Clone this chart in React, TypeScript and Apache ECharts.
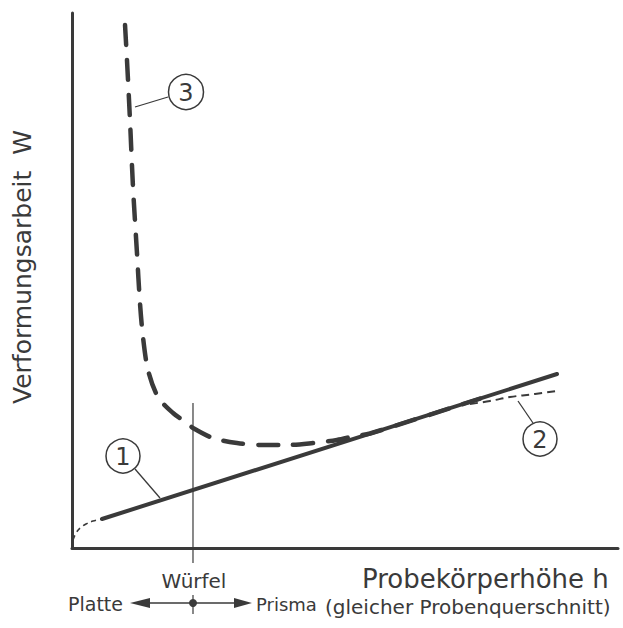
import React, { useEffect, useRef } from "react";
import * as echarts from "echarts";

// Kurve 1 (durchgezogen) und gestrichelter Anfang
const curve1: [number, number][] = [
  [5.49, 5.42],
  [88.83, 32.52],
];
const curve1Start: [number, number][] = [
  [0.18, 1.5],
  [0.73, 2.8],
  [1.47, 3.74],
  [2.56, 4.49],
  [3.85, 5.05],
  [5.49, 5.42],
];
// Kurve 2 (fein gestrichelt)
const curve2: [number, number][] = [
  [72.89, 26.92],
  [76.56, 27.48],
  [80.22, 28.22],
  [84.8, 28.79],
  [88.83, 29.35],
];
// Kurve 3 (grob gestrichelt)
const curve3: [number, number][] = [
  [9.71, 97.76],
  [10.07, 91.21],
  [10.62, 80.0],
  [11.17, 67.48],
  [11.9, 55.14],
  [12.45, 45.79],
  [13.0, 39.44],
  [13.92, 33.27],
  [15.75, 28.22],
  [18.5, 25.23],
  [21.06, 23.36],
  [22.16, 22.43],
  [25.82, 20.56],
  [30.22, 19.63],
  [34.98, 19.25],
  [39.38, 19.25],
  [44.14, 19.63],
  [48.53, 20.19],
  [51.83, 20.93],
  [54.58, 21.4],
  [74.73, 27.93],
];
// Würfel-Linie
const cubeLine: [number, number][] = [
  [22.16, 27.1],
  [22.16, -2.8],
];

const INK = "#3a3a3a";
const FONT = "DejaVu Sans";

export default function App() {
  const ref = useRef<HTMLDivElement>(null);
  useEffect(() => {
    document.body.style.margin = "0";
    if (!ref.current) return;
    const chart = echarts.init(ref.current, null, { renderer: "svg" });
    const circleLabel = (cx: number, cy: number, r: number, t: string) => [
      {
        type: "circle",
        shape: { cx, cy, r },
        style: { fill: "#fff", stroke: INK, lineWidth: 1.5 },
        z: 100,
      },
      {
        type: "text",
        x: cx,
        y: cy + 1,
        style: {
          text: t,
          fontSize: 24,
          fontFamily: FONT,
          fill: INK,
          align: "center",
          verticalAlign: "middle",
        },
        z: 101,
      },
    ];
    const leader = (x1: number, y1: number, x2: number, y2: number) => ({
      type: "line",
      shape: { x1, y1, x2, y2 },
      style: { stroke: INK, lineWidth: 1.3 },
      z: 99,
    });
    const txt = (x: number, y: number, text: string, size: number, align = "left") => ({
      type: "text",
      x,
      y,
      style: {
        text,
        fontSize: size,
        fontFamily: FONT,
        fill: INK,
        align,
        verticalAlign: "middle",
      },
    });
    chart.setOption({
      animation: false,
      backgroundColor: "#fff",
      grid: {
        left: 72,
        right: 5,
        top: 13,
        bottom: 80,
        containLabel: false,
        outerBoundsMode: "none",
      },
      xAxis: {
        type: "value",
        min: 0,
        max: 100,
        axisLine: { show: true, onZero: false, lineStyle: { color: INK, width: 3 } },
        axisTick: { show: false },
        axisLabel: { show: false },
        splitLine: { show: false },
      },
      yAxis: {
        type: "value",
        min: 0,
        max: 100,
        axisLine: { show: true, onZero: false, lineStyle: { color: INK, width: 3 } },
        axisTick: { show: false },
        axisLabel: { show: false },
        splitLine: { show: false },
      },
      series: [
        {
          type: "line",
          data: cubeLine,
          symbol: "none",
          clip: false,
          lineStyle: { color: INK, width: 1.2 },
        },
        {
          type: "line",
          data: curve1Start,
          symbol: "none",
          smooth: 0.4,
          lineStyle: { color: INK, width: 1.6, type: [5, 4] },
        },
        {
          type: "line",
          data: curve2,
          symbol: "none",
          smooth: 0.4,
          lineStyle: { color: INK, width: 2, type: [8, 5] },
        },
        {
          type: "line",
          data: curve1,
          symbol: "none",
          lineStyle: { color: INK, width: 4, cap: "round" },
        },
        {
          type: "line",
          data: curve3,
          symbol: "none",
          smooth: 0.3,
          lineStyle: { color: INK, width: 4.5, type: [20, 15], cap: "round" },
        },
      ],
      graphic: [
        ...circleLabel(123, 456, 17, "1"),
        leader(135, 469, 160, 498),
        ...circleLabel(540, 439, 17, "2"),
        leader(518, 401, 533, 423),
        ...circleLabel(186, 92, 17.5, "3"),
        leader(168, 97, 135, 107),
        {
          type: "text",
          x: 22,
          y: 267,
          rotation: Math.PI / 2,
          style: {
            text: "Verformungsarbeit  W",
            fontSize: 25,
            fontFamily: FONT,
            fill: INK,
            align: "center",
            verticalAlign: "middle",
          },
        },
        txt(194, 581, "Würfel", 20, "center"),
        txt(362, 579, "Probekörperhöhe h", 26),
        txt(68, 604, "Platte", 19),
        txt(256, 604, "Prisma", 18),
        txt(325, 607, "(gleicher Probenquerschnitt)", 20),
        {
          type: "line",
          shape: { x1: 145, y1: 603, x2: 240, y2: 603 },
          style: { stroke: INK, lineWidth: 1.5 },
        },
        {
          type: "polygon",
          shape: { points: [[130, 603], [150, 598], [150, 608]] },
          style: { fill: INK },
        },
        {
          type: "polygon",
          shape: { points: [[252, 603], [234, 598], [234, 608]] },
          style: { fill: INK },
        },
        {
          type: "line",
          shape: { x1: 193, y1: 595, x2: 193, y2: 614 },
          style: { stroke: INK, lineWidth: 1.2 },
        },
        {
          type: "circle",
          shape: { cx: 193, cy: 603, r: 4 },
          style: { fill: INK },
        },
      ],
    });
    return () => chart.dispose();
  }, []);
  return <div ref={ref} style={{ width: 623, height: 628 }} />;
}
